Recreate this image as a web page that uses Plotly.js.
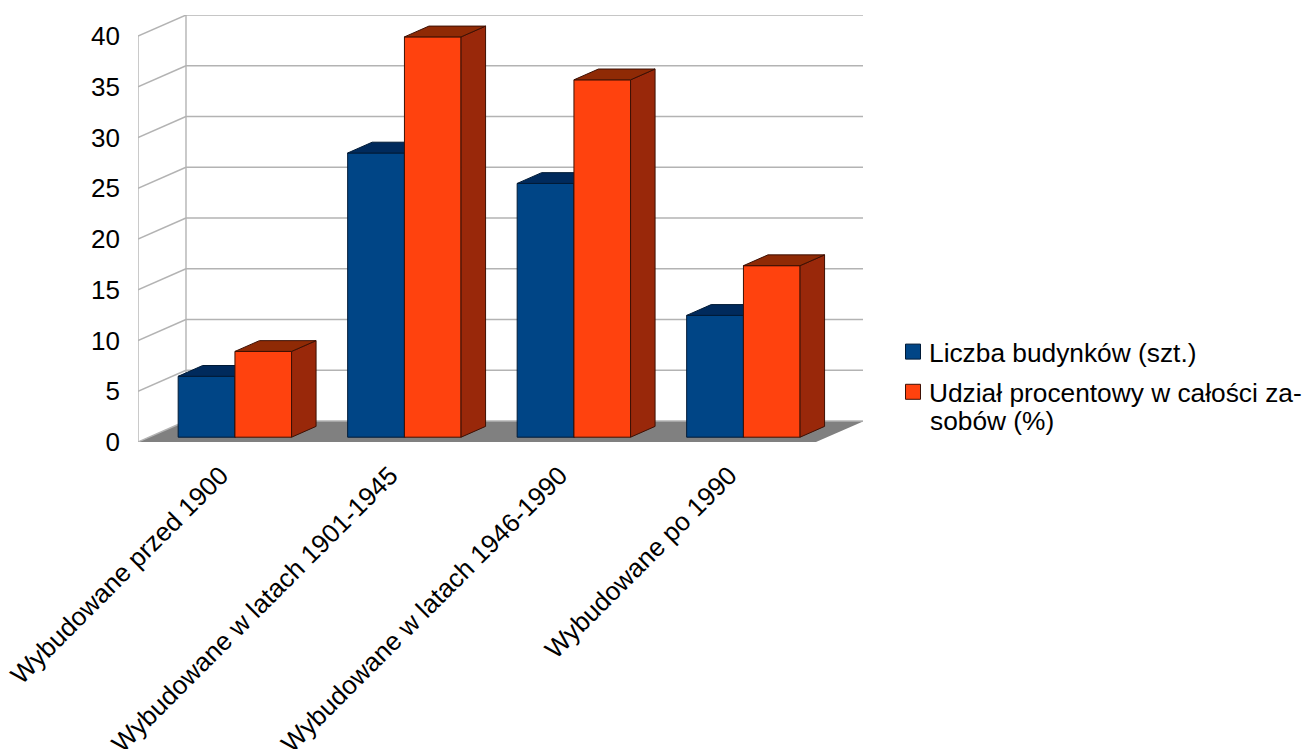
<!DOCTYPE html>
<html lang="pl">
<head>
<meta charset="utf-8">
<title>Budynki według okresu budowy</title>
<script src="https://cdn.plot.ly/plotly-3.0.1.min.js"></script>
<style>html,body{margin:0;padding:0;background:#fff;overflow:hidden}</style>
</head>
<body>
<div id="chart" style="width:1304px;height:749px"></div>
<script>
const categories = ['Wybudowane przed 1900', 'Wybudowane w latach 1901-1945', 'Wybudowane w latach 1946-1990', 'Wybudowane po 1990'];
const budynki = [6, 28, 25, 12];
const udzial = [8.45, 39.44, 35.21, 16.9];
const yTicks = [0, 5, 10, 15, 20, 25, 30, 35, 40];
const seriesNames = ['Liczba budynków (szt.)', 'Udział procentowy w całości za-'];
const nameContinuation = 'sobów (%)';

// Oblique projection, in axis units: one category step is 169.5 px, one y unit 10.15 px.
const UX = 169.5, UY = 10.15;
const wallDX = 48 / UX, wallDY = 21 / UY;      // depth of the floor and side wall
const barDX = 24.5 / UX, barDY = 10.8 / UY;    // depth of one bar
const barBase = 4.8 / UY;                      // bars stand slightly inside the floor
const barLeft = 0.237, barMid = 0.572, barRight = 0.906;
const xMax = 725 / UX, yMax = 427 / UY;
const GRID = '#b3b3b3';

function line(x0, y0, x1, y1) {
  return {type: 'line', layer: 'below', xref: 'x', yref: 'y', x0, y0, x1, y1,
          line: {color: GRID, width: 1.4}};
}

// Floor and walls stay under every trace.
const shapes = [{
  type: 'path', layer: 'below', xref: 'x', yref: 'y', line: {width: 0}, fillcolor: '#808080',
  path: `M0,0 L4,0 L${4 + wallDX},${wallDY} L${wallDX},${wallDY} Z`
}];
yTicks.forEach(t => {
  shapes.push(line(0, t, wallDX, t + wallDY));
  shapes.push(line(wallDX, t + wallDY, 4 + wallDX, t + wallDY));
});
const wallTop = 40;
shapes.push(line(0, 0, 0, wallTop));
shapes.push(line(wallDX, wallDY, wallDX, wallTop + wallDY));
shapes.push(line(4 + wallDX, wallDY, 4 + wallDX, wallTop + wallDY));

// Top and right faces of a series, joined into one trace with gaps between the bars.
function face(values, left, right, kind, color, edge, xa, ya) {
  const xs = [], ys = [];
  values.forEach((v, i) => {
    const t = barBase + v, l = i + left, r = i + right;
    if (kind === 'top') {
      xs.push(l, r, r + barDX, l + barDX, l, null);
      ys.push(t, t, t + barDY, t + barDY, t, null);
    } else {
      xs.push(r, r + barDX, r + barDX, r, r, null);
      ys.push(barBase, barBase + barDY, t + barDY, t, barBase, null);
    }
  });
  return {type: 'scatter', mode: 'lines', x: xs, y: ys, fill: 'toself', fillcolor: color,
          line: {color: edge, width: 1}, showlegend: false, hoverinfo: 'skip', xaxis: xa, yaxis: ya};
}

function front(values, left, right, color, edge, xa, ya) {
  return {type: 'bar', x: values.map((_, i) => i + (left + right) / 2), y: values,
          base: values.map(() => barBase), width: values.map(() => right - left),
          marker: {color, line: {color: edge, width: 1}}, showlegend: false, xaxis: xa, yaxis: ya};
}

// Legend-only entries, so the swatches can be larger than a bar trace's legend icon.
function legendEntry(name, color, edge, group) {
  return {type: 'scatter', mode: 'markers', x: [null], y: [null], name, legendgroup: group,
          marker: {symbol: 'square', size: 15, color, line: {color: edge, width: 1}}};
}

const BLUE = '#004586', BLUE_TOP = '#002a5c', BLUE_EDGE = '#001a36';
const RED = '#ff420e', RED_SHADE = '#99280a', RED_TOP = '#8f2a05', RED_EDGE = '#3d1004';

const traces = [
  front(budynki, barLeft, barMid, BLUE, BLUE_EDGE, 'x', 'y'),
  face(budynki, barLeft, barMid, 'side', BLUE_TOP, BLUE_EDGE, 'x', 'y'),
  face(budynki, barLeft, barMid, 'top', BLUE_TOP, BLUE_EDGE, 'x', 'y'),
  // The second series sits on an overlay subplot so it covers the first one.
  front(udzial, barMid, barRight, RED, RED_EDGE, 'x2', 'y2'),
  face(udzial, barMid, barRight, 'side', RED_SHADE, RED_EDGE, 'x2', 'y2'),
  face(udzial, barMid, barRight, 'top', RED_TOP, RED_EDGE, 'x2', 'y2'),
  legendEntry(seriesNames[0], BLUE, BLUE_EDGE, 'a'),
  legendEntry(seriesNames[1], RED, RED_EDGE, 'b')
];

const FONT = 'Liberation Sans, Arial, sans-serif';
const layout = {
  width: 1304, height: 749,
  margin: {l: 138, r: 441, t: 15, b: 307, pad: 0, autoexpand: false},
  paper_bgcolor: '#fff', plot_bgcolor: 'rgba(0,0,0,0)',
  barmode: 'overlay', shapes,
  font: {family: FONT, size: 26, color: '#000'},
  xaxis: {range: [0, xMax], tickmode: 'array', tickvals: categories.map((_, i) => i + 0.5),
          ticktext: categories, tickangle: -45, showgrid: false, zeroline: false, showline: false,
          ticks: '', ticklabelstandoff: 12, ticklabelshift: -2, fixedrange: true,
          tickfont: {family: FONT, size: 26, color: '#000'}},
  yaxis: {range: [0, yMax], tickmode: 'array', tickvals: yTicks, showgrid: false, zeroline: false,
          showline: false, ticks: '', ticklabelstandoff: 17, ticklabelshift: -1.5, fixedrange: true,
          tickfont: {family: FONT, size: 26, color: '#000'}},
  xaxis2: {range: [0, xMax], overlaying: 'x', visible: false, fixedrange: true},
  yaxis2: {range: [0, yMax], overlaying: 'y', visible: false, fixedrange: true},
  legend: {x: (889 - 138) / 725, xanchor: 'left', y: (442 - 328) / 427, yanchor: 'top',
           bgcolor: 'rgba(0,0,0,0)', traceorder: 'grouped', tracegroupgap: 3,
           font: {family: FONT, size: 26.3, color: '#000'}},
  annotations: [{
    xref: 'paper', yref: 'paper', x: (928 - 138) / 725, y: (442 - 420.5) / 427, xanchor: 'left', yanchor: 'middle',
    text: nameContinuation, showarrow: false, font: {family: FONT, size: 26.3, color: '#000'}
  }],
  hovermode: false
};

Plotly.newPlot('chart', traces, layout, {displayModeBar: false, staticPlot: true}).then(() => {
  // Bring the swatches nearer to their labels than the legend's fixed item width allows.
  document.querySelectorAll('.legendsymbols').forEach(g => g.setAttribute('transform', 'translate(4,0)'));
});
</script>
</body>
</html>
